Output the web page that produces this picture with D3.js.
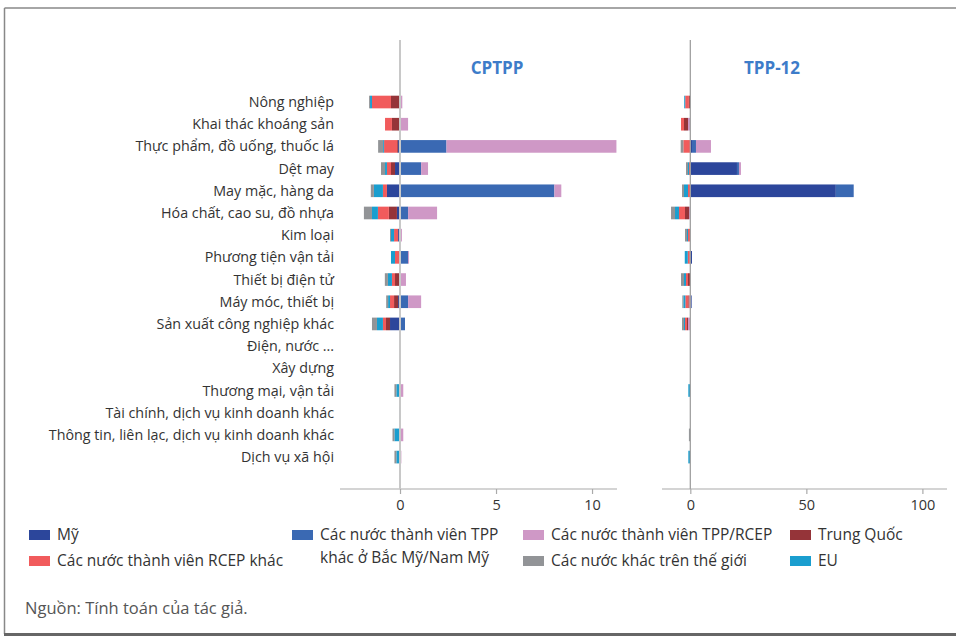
<!DOCTYPE html>
<html>
<head>
<meta charset="utf-8">
<script src="https://cdn.jsdelivr.net/npm/d3@7"></script>
<style>
  body { margin: 0; background: #fff; }
  svg { display: block; font-family: "Open Sans", "Noto Sans", sans-serif; }
</style>
</head>
<body>
<svg id="chart" width="956" height="638"></svg>
<script>
// categories (top to bottom)
const categories = [
  "Nông nghiệp",
  "Khai thác khoáng sản",
  "Thực phẩm, đồ uống, thuốc lá",
  "Dệt may",
  "May mặc, hàng da",
  "Hóa chất, cao su, đồ nhựa",
  "Kim loại",
  "Phương tiện vận tải",
  "Thiết bị điện tử",
  "Máy móc, thiết bị",
  "Sản xuất công nghiệp khác",
  "Điện, nước ...",
  "Xây dựng",
  "Thương mại, vận tải",
  "Tài chính, dịch vụ kinh doanh khác",
  "Thông tin, liên lạc, dịch vụ kinh doanh khác",
  "Dịch vụ xã hội",
];

// series, in stacking order (outward from zero)
const seriesKeys = ["my", "tppAm", "tppRcep", "china", "rcep", "eu", "other"];
const seriesLabels = {
  my: "Mỹ",
  tppAm: "Các nước thành viên TPP\nkhác ở Bắc Mỹ/Nam Mỹ",
  tppRcep: "Các nước thành viên TPP/RCEP",
  china: "Trung Quốc",
  rcep: "Các nước thành viên RCEP khác",
  eu: "EU",
  other: "Các nước khác trên thế giới",
};
const seriesColors = {
  my: "#2c469b",
  tppAm: "#3a69b3",
  tppRcep: "#cf98c6",
  china: "#953439",
  rcep: "#f15b5c",
  eu: "#1a9ecf",
  other: "#929497",
};

// CPTPP values
const cptppMy      = [0, 0, -0.1, -0.26, -0.68, -0.16, -0.1, 0, 0, -0.1, -0.52, 0, 0, 0, 0, 0, 0];
const cptppTppAm   = [0, 0, 2.42, 1.1, 8.04, 0.42, 0, 0.42, 0, 0.42, 0.26, 0, 0, 0, 0, 0, 0];
const cptppTppRcep = [0.12, 0.42, 8.85, 0.36, 0.36, 1.51, 0.1, 0.05, 0.31, 0.68, 0, 0, 0, 0.17, 0, 0.17, 0.07];
const cptppChina   = [-0.47, -0.42, -0.05, -0.21, 0, -0.42, 0, -0.05, -0.26, -0.21, -0.21, 0, 0, -0.03, 0, -0.03, 0];
const cptppRcep    = [-0.99, -0.36, -0.68, -0.21, -0.21, -0.57, -0.21, -0.21, -0.16, -0.21, -0.16, 0, 0, 0, 0, 0, 0];
const cptppEu      = [-0.1, 0, -0.05, -0.1, -0.47, -0.31, -0.16, -0.21, -0.21, -0.1, -0.31, 0, 0, -0.16, -0.05, -0.26, -0.19];
const cptppOther   = [-0.05, 0, -0.26, -0.21, -0.16, -0.42, -0.05, 0, -0.16, -0.1, -0.26, 0, 0, -0.1, 0, -0.1, -0.1];

// TPP-12 values
const tppMy      = [0, 0, 0.72, 20.1, 62.7, 0, 0, 0.72, 0, 0.57, 0, 0, 0, 0, 0, 0, 0];
const tppTppAm   = [0, 0, 1.72, 0.86, 7.7, 0, 0, 0, 0, 0, 0, 0, 0, 0, 0, 0, 0];
const tppTppRcep = [0, -1.0, 6.46, 0.86, 0, -0.57, 0, 0, 0, -0.43, -1.0, 0, 0, 0, 0, 0, 0];
const tppChina   = [-0.6, -1.72, 0, 0, 0, -1.72, 0, -0.3, -1.0, -0.43, -0.43, 0, 0, 0, 0, 0, 0];
const tppRcep    = [-1.6, -1.29, -3.0, -0.57, -1.0, -2.58, -1.0, -0.8, -0.86, -1.29, -0.86, 0, 0, 0, 0, 0, 0];
const tppEu      = [-0.43, 0, 0, -0.43, -1.72, -1.72, -0.43, -1.29, -0.86, -0.86, -0.43, 0, 0, -0.86, 0, 0, -0.86];
const tppOther   = [0, 0, -1.15, -0.86, -0.86, -1.72, -0.86, 0, -1.29, -0.43, -0.86, 0, 0, 0, 0, -0.6, 0];

const cptppTicks = [0, 5, 10];
const tppTicks = [0, 50, 100];

const svg = d3.select("#chart");
const textColor = "#333";

// frame
svg.append("line").attr("x1", 4.5).attr("x2", 956).attr("y1", 8).attr("y2", 8)
  .attr("stroke", "#888").attr("stroke-width", 1.5);
svg.append("line").attr("x1", 4.5).attr("x2", 4.5).attr("y1", 8).attr("y2", 634)
  .attr("stroke", "#888").attr("stroke-width", 1.5);
svg.append("line").attr("x1", 4).attr("x2", 956).attr("y1", 634.5).attr("y2", 634.5)
  .attr("stroke", "#666").attr("stroke-width", 3);

const y = d3.scaleBand().domain(categories).range([84.6, 474.5])
  .paddingInner(0.43).paddingOuter(0.5);

const AXIS_Y = 489;

// category labels
svg.append("g").selectAll("text").data(categories).join("text")
  .attr("x", 334)
  .attr("y", (d) => y(d) + y.bandwidth() / 2)
  .attr("dy", "0.35em")
  .attr("text-anchor", "end")
  .style("font-size", "14.3px")
  .style("fill", textColor)
  .text((d) => d);

function panel({ title, titleX, range, domain, ticks, values, zeroColor, zeroWidth }) {
  const x = d3.scaleLinear().domain(domain).range(range);
  const rows = categories.map((c, i) => {
    const row = { cat: c };
    seriesKeys.forEach((k) => (row[k] = values[k][i]));
    return row;
  });
  const stacked = d3.stack().keys(seriesKeys).offset(d3.stackOffsetDiverging)(rows);

  const g = svg.append("g");
  g.selectAll("g.series").data(stacked).join("g")
    .attr("class", "series")
    .attr("fill", (s) => seriesColors[s.key])
    .selectAll("rect")
    .data((s) => s.filter((d) => d[1] - d[0] !== 0))
    .join("rect")
    .attr("x", (d) => x(Math.min(d[0], d[1])))
    .attr("width", (d) => Math.abs(x(d[1]) - x(d[0])))
    .attr("y", (d) => y(d.data.cat))
    .attr("height", y.bandwidth());

  // axis
  const axis = d3.axisBottom(x).tickValues(ticks).tickSize(5).tickPadding(6).tickFormat(d3.format("d"));
  const ag = g.append("g").attr("transform", `translate(0,${AXIS_Y})`).call(axis);
  ag.select(".domain").attr("stroke", "#aaa").attr("stroke-width", 1.2)
    .attr("d", `M${range[0]},0H${range[1]}`);
  ag.selectAll(".tick line").attr("stroke", "#aaa").attr("stroke-width", 1.2);
  ag.selectAll(".tick text").style("font-size", "14.5px").style("fill", textColor)
    .style("font-family", '"Open Sans", "Noto Sans", sans-serif');

  // zero line over the bars
  g.append("line")
    .attr("x1", x(0)).attr("x2", x(0))
    .attr("y1", 40).attr("y2", AXIS_Y)
    .attr("stroke", zeroColor).attr("stroke-width", zeroWidth);

  // title
  g.append("text")
    .attr("x", titleX).attr("y", 74)
    .attr("text-anchor", "middle")
    .style("font-size", "17px").style("font-weight", "bold")
    .style("fill", "#3d7cc9")
    .text(title);
}

panel({
  title: "CPTPP",
  titleX: 497,
  range: [340, 617],
  domain: [-3.125, 11.3],
  ticks: cptppTicks,
  zeroColor: "#c8c8c8",
  zeroWidth: 2,
  values: {
    my: cptppMy, tppAm: cptppTppAm, tppRcep: cptppTppRcep, china: cptppChina,
    rcep: cptppRcep, eu: cptppEu, other: cptppOther,
  },
});

panel({
  title: "TPP-12",
  titleX: 772,
  range: [662, 947],
  domain: [-12.2, 110.6],
  ticks: tppTicks,
  zeroColor: "#a0a0a0",
  zeroWidth: 1.3,
  values: {
    my: tppMy, tppAm: tppTppAm, tppRcep: tppTppRcep, china: tppChina,
    rcep: tppRcep, eu: tppEu, other: tppOther,
  },
});

// legend
const legendItems = [
  { key: "my", x: 29, y: 535 },
  { key: "tppAm", x: 292, y: 535 },
  { key: "tppRcep", x: 523, y: 535 },
  { key: "china", x: 790, y: 535 },
  { key: "rcep", x: 29, y: 561 },
  { key: "other", x: 523, y: 561 },
  { key: "eu", x: 790, y: 561 },
];
const lg = svg.append("g").selectAll("g").data(legendItems).join("g")
  .attr("transform", (d) => `translate(${d.x},${d.y})`);
lg.append("rect").attr("x", 0).attr("y", -5).attr("width", 21).attr("height", 10)
  .attr("fill", (d) => seriesColors[d.key]);
lg.append("text")
  .attr("x", 28)
  .attr("y", 0)
  .style("font-size", "15.5px")
  .style("fill", textColor)
  .selectAll("tspan")
  .data((d) => seriesLabels[d.key].split("\n"))
  .join("tspan")
  .attr("x", 28)
  .attr("dy", (d, i) => (i === 0 ? "0.35em" : "1.45em"))
  .text((d) => d);

// source
svg.append("text").attr("x", 25).attr("y", 614)
  .style("font-size", "16.5px").style("fill", "#555")
  .text("Nguồn: Tính toán của tác giả.");
</script>
</body>
</html>
